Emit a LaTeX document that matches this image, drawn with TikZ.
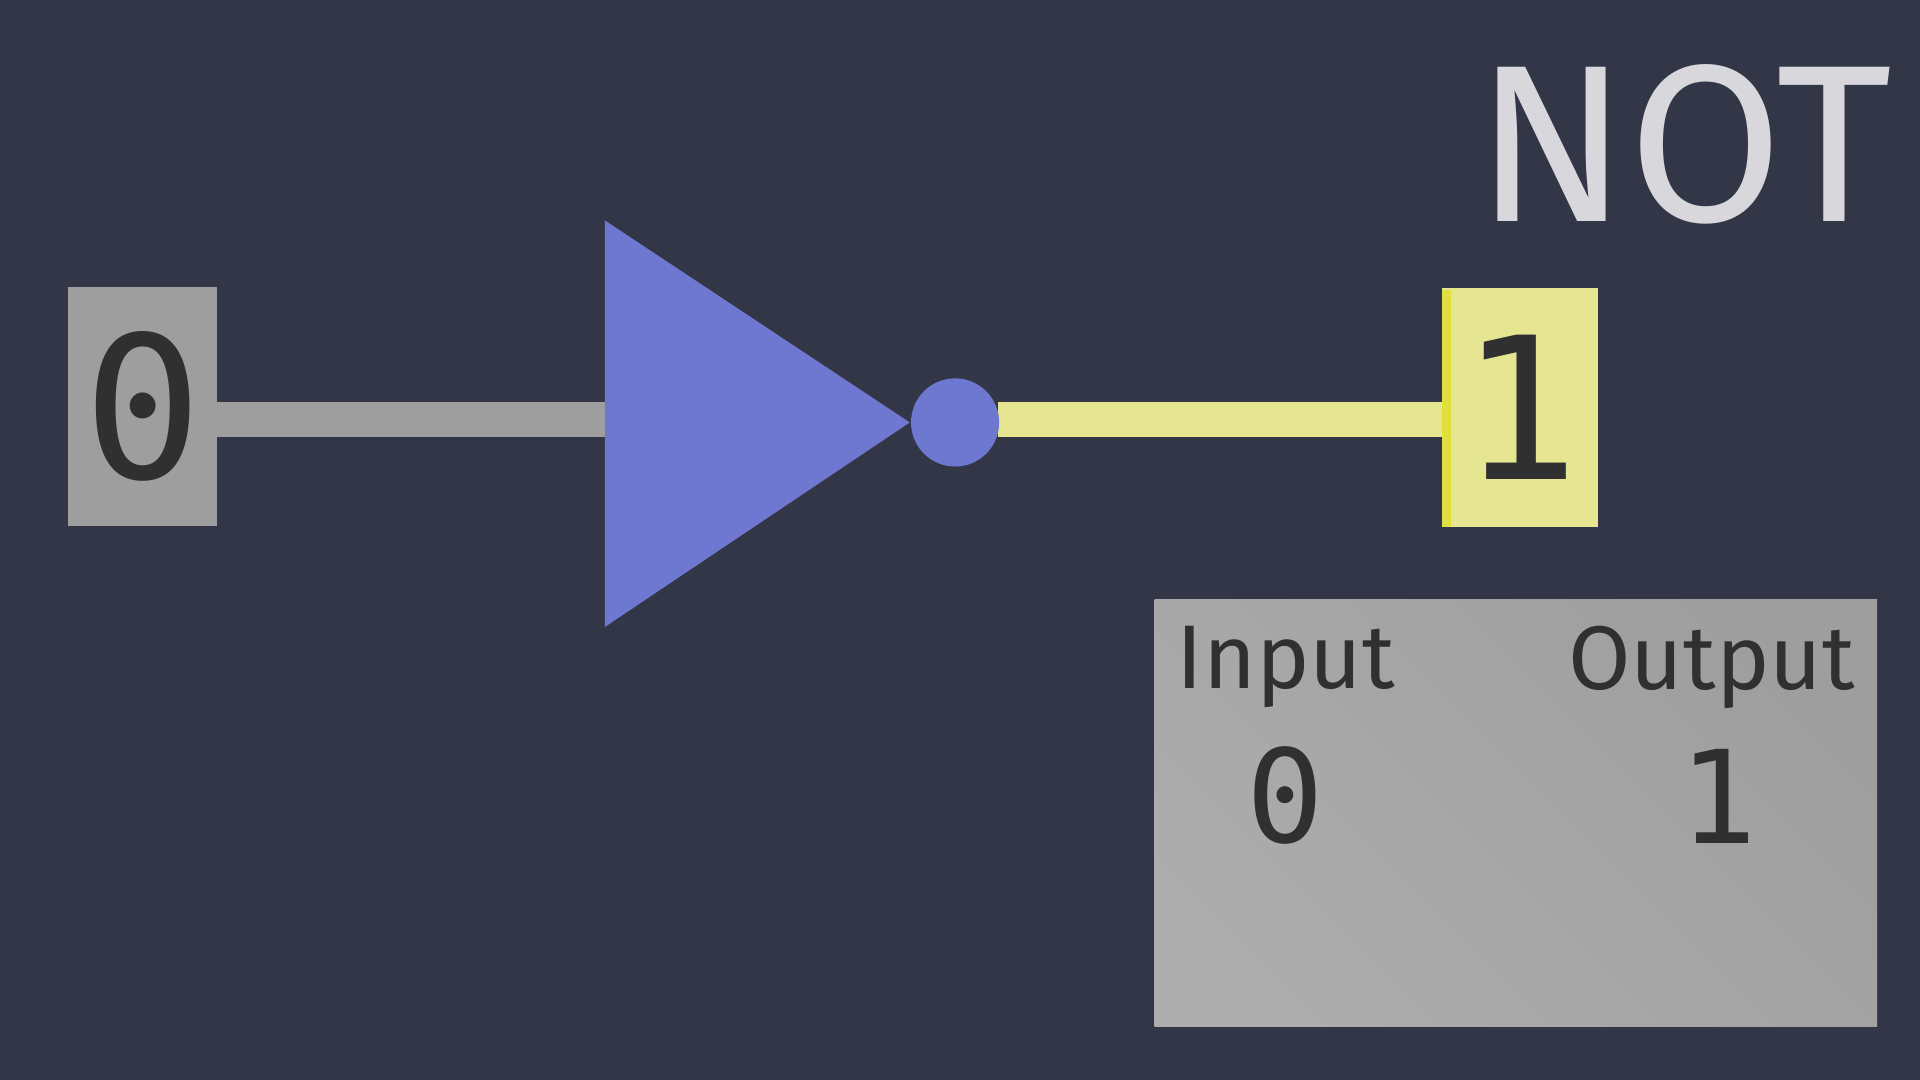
\documentclass[tikz,border=0pt]{standalone}
\usepackage{fontspec}
\setmainfont{Fira Sans}
\newfontfamily\digitfont{DejaVu Sans Mono}
\usetikzlibrary{positioning}
\definecolor{bgcol}{HTML}{323647}
\definecolor{offcol}{HTML}{9E9E9E}
\definecolor{oncol}{HTML}{E5E592}
\definecolor{onedge}{HTML}{E2E040}
\definecolor{gatecol}{HTML}{6E78D0}
\definecolor{inkcol}{HTML}{303030}
\definecolor{titlecol}{HTML}{D8D8DC}
\tikzset{
  pinbox/.style={minimum width=1.22cm,minimum height=1.95cm,inner sep=0pt},
  bigdigit/.style={text=inkcol,font=\digitfont\fontsize{46}{46}\selectfont},
  tabhead/.style={text=inkcol,font=\fontsize{21}{21}\selectfont},
  tabdigit/.style={text=inkcol,font=\digitfont\fontsize{30}{30}\selectfont}
}
\begin{document}
\begin{tikzpicture}[x=0.01cm,y=-0.01cm]
\fill[bgcol](0,0)rectangle(1568,882);
\useasboundingbox(0,0)rectangle(1568,882);
% title
\node[text=titlecol,font=\fontsize{52}{52}\selectfont,anchor=center] (title) at (1375,118){NOT};
% wires
\fill[offcol](176,328)rectangle(494,357);
\fill[oncol](815,328)rectangle(1180,357);
% gate
\fill[gatecol](494,180)--(743,345)--(494,512)--cycle;
\fill[gatecol](780,345)circle(36);
% input and output pins
\node[pinbox,fill=offcol,bigdigit] (in) at (116.5,332){0};
\node[pinbox,fill=oncol,minimum width=1.27cm,bigdigit] (out) at (1241.5,332.5){1};
\fill[onedge](1178,237)rectangle(1185,430);
% truth table
\shade[left color=offcol!85!white,right color=offcol,shading angle=135](943,490)rectangle(1533,838);
\node[tabhead] (hin) at (1050,545){Input};
\node[tabhead] (hout) at (1398,545){Output};
\node[tabdigit] (vin) at (1050,650){0};
\node[tabdigit] (vout) at (1403,650){1};
\end{tikzpicture}
\end{document}
